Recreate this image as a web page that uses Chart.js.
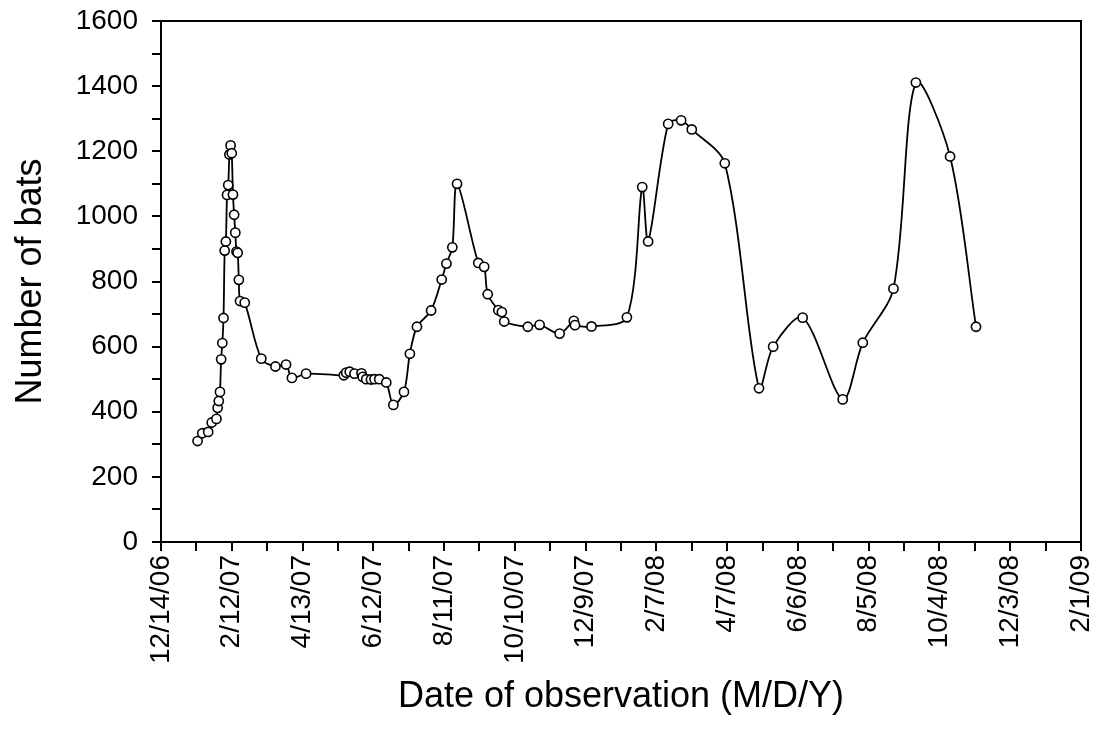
<!DOCTYPE html>
<html>
<head>
<meta charset="utf-8">
<script src="https://cdn.jsdelivr.net/npm/chart.js@4"></script>
<style>
  html, body { margin: 0; padding: 0; background: #fff; }
  #wrap { width: 1096px; height: 736px; }
</style>
</head>
<body>
<div id="wrap"><canvas id="batChart" width="1096" height="736"></canvas></div>
<script>
// observation dates (M/D/YY) and counts
const obsDates = [
  "1/14/07", "1/18/07", "1/23/07", "1/26/07", "1/30/07", "1/31/07", "2/1/07", "2/2/07",
  "2/3/07", "2/4/07", "2/5/07", "2/6/07", "2/7/07", "2/8/07", "2/9/07", "2/10/07",
  "2/11/07", "2/12/07", "2/13/07", "2/14/07", "2/15/07", "2/16/07", "2/17/07", "2/18/07",
  "2/19/07", "2/23/07", "3/9/07", "3/21/07", "3/30/07", "4/4/07", "4/16/07", "5/18/07",
  "5/20/07", "5/23/07", "5/27/07", "6/2/07", "6/3/07", "6/6/07", "6/10/07", "6/13/07",
  "6/17/07", "6/23/07", "6/29/07", "7/8/07", "7/13/07", "7/19/07", "7/31/07", "8/9/07",
  "8/13/07", "8/18/07", "8/22/07", "9/9/07", "9/14/07", "9/17/07", "9/26/07", "9/29/07",
  "10/1/07", "10/21/07", "10/31/07", "11/17/07", "11/29/07", "11/30/07", "12/14/07", "1/13/08",
  "1/26/08", "1/31/08", "2/17/08", "2/28/08", "3/8/08", "4/5/08", "5/4/08", "5/16/08",
  "6/10/08", "7/14/08", "7/31/08", "8/26/08", "9/14/08", "10/13/08", "11/4/08"
];
const batCounts = [
  310, 334, 338, 367, 378, 412, 433, 461,
  561, 611, 688, 895, 923, 1066, 1096, 1190,
  1218, 1194, 1067, 1005, 950, 892, 888, 805,
  740, 735, 563, 539, 545, 504, 517, 512,
  520, 523, 517, 518, 507, 500, 499, 500,
  500, 490, 421, 461, 578, 661, 711, 806,
  855, 905, 1100, 857, 845, 761, 712, 706,
  677, 661, 667, 640, 679, 666, 662, 690,
  1090, 923, 1284, 1295, 1267, 1163, 472, 600,
  689, 438, 612, 778, 1411, 1184, 661
];

// axis range: 12/14/06 .. 2/1/09, labels every 60 days
const xStart = "12/14/06";
const xEnd = "2/1/09";
const xLabelStep = 60;
const yMax = 1600;
const yLabelStep = 200;

function parseDate(s) {
  const [m, d, y] = s.split("/").map(Number);
  return Date.UTC(2000 + y, m - 1, d);
}
const baseMs = parseDate(xStart);
const DAY = 86400000;
function dayOf(s) {
  return Math.round((parseDate(s) - baseMs) / DAY);
}
function fmtDay(n) {
  const dt = new Date(baseMs + n * DAY);
  const yy = String(dt.getUTCFullYear() % 100).padStart(2, "0");
  return `${dt.getUTCMonth() + 1}/${dt.getUTCDate()}/${yy}`;
}

const points = obsDates.map((s, i) => ({ x: dayOf(s), y: batCounts[i] }));

// frame on all four sides of the plot
const frame = {
  id: "frame",
  afterDatasetsDraw(chart) {
    const { ctx, chartArea: a } = chart;
    ctx.save();
    ctx.strokeStyle = "#000";
    ctx.lineWidth = 2;
    ctx.strokeRect(a.left, a.top, a.right - a.left, a.bottom - a.top);
    ctx.restore();
  },
};

const tickFont = { family: "'Liberation Sans', Arial, sans-serif", size: 28 };
const titleFont = { family: "'Liberation Sans', Arial, sans-serif", size: 36 };

new Chart(document.getElementById("batChart"), {
  type: "line",
  data: {
    datasets: [
      {
        data: points,
        borderColor: "#000",
        borderWidth: 1.8,
        tension: 0.3,
        pointRadius: 4.6,
        pointBorderWidth: 1.6,
        pointBackgroundColor: "#fff",
        pointBorderColor: "#000",
        fill: false,
      },
    ],
  },
  options: {
    responsive: false,
    animation: false,
    layout: { padding: { top: 21, right: 15, bottom: 0, left: 0 } },
    plugins: { legend: { display: false }, tooltip: { enabled: false } },
    scales: {
      x: {
        type: "linear",
        min: 0,
        max: dayOf(xEnd),
        afterFit(scale) {
          scale.height = 194;
          scale.paddingLeft = 0;
          scale.paddingRight = 0;
        },
        ticks: {
          stepSize: xLabelStep / 2,
          autoSkip: false,
          maxRotation: 90,
          minRotation: 90,
          padding: 4,
          color: "#000",
          font: tickFont,
          callback: (v) => (v % xLabelStep === 0 ? fmtDay(v) : ""),
        },
        grid: {
          drawOnChartArea: false,
          drawTicks: true,
          tickLength: 9,
          color: "#000",
          lineWidth: 2,
        },
        border: { display: true, color: "#000", width: 2 },
        title: {
          display: true,
          text: "Date of observation (M/D/Y)",
          color: "#000",
          font: titleFont,
          padding: { top: 0, bottom: 17 },
        },
      },
      y: {
        min: 0,
        max: yMax,
        afterFit(scale) {
          scale.width = 161;
          scale.paddingTop = 0;
          scale.paddingBottom = 0;
        },
        ticks: {
          stepSize: yLabelStep / 2,
          autoSkip: false,
          padding: 14,
          color: "#000",
          font: tickFont,
          callback: (v) => (v % yLabelStep === 0 ? v : ""),
        },
        grid: {
          drawOnChartArea: false,
          drawTicks: true,
          tickLength: 9,
          color: "#000",
          lineWidth: 2,
        },
        border: { display: true, color: "#000", width: 2 },
        title: {
          display: true,
          text: "Number of bats",
          color: "#000",
          font: titleFont,
          padding: { top: 9, bottom: 0 },
        },
      },
    },
  },
  plugins: [frame],
});
</script>
</body>
</html>
